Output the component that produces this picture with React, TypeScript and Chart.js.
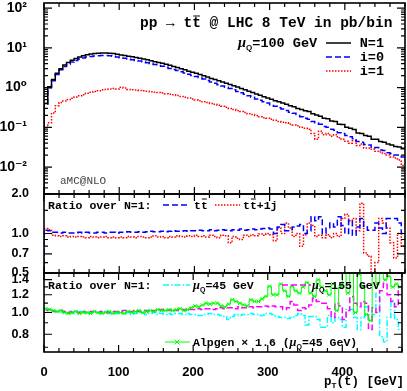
import React, { useEffect, useRef } from 'react';
import { Chart, registerables } from 'chart.js';
Chart.register(...registerables);

// ---------- data ----------
const BIN_WIDTH = 5; // GeV
const X_MIN = 0;
const X_MAX = 480;
const xTickValues = [0, 100, 200, 300, 400];

// main panel (pb/bin), 5 GeV bins from 0 to 480
const nEq1 = [
  0.4, 1.05, 1.6, 2.3, 3.0, 3.7, 4.3, 4.9, 5.4, 5.9, 6.3, 6.7, 7.0, 7.2, 7.35, 7.45, 7.45, 7.35, 7.2, 6.9,
  6.6, 6.4, 6.2, 6.0, 5.75, 5.5, 5.25, 5.0, 4.75, 4.5, 4.3, 4.1, 3.9, 3.65, 3.4, 3.2, 3.0, 2.8, 2.6, 2.45,
  2.3, 2.15, 2.0, 1.85, 1.7, 1.6, 1.48, 1.38, 1.28, 1.2, 1.12, 1.03, 0.95, 0.88, 0.81, 0.75, 0.69, 0.64, 0.59, 0.55,
  0.51, 0.47, 0.44, 0.41, 0.38, 0.35, 0.33, 0.30, 0.28, 0.26, 0.25, 0.22, 0.205, 0.19, 0.17, 0.165, 0.145, 0.14, 0.12, 0.118,
  0.10, 0.095, 0.088, 0.072, 0.07, 0.062, 0.06, 0.05, 0.05, 0.044, 0.042, 0.038, 0.036, 0.033, 0.032, 0.029,
];
const iEq0 = [
  0.38, 1.0, 1.5, 2.15, 2.8, 3.4, 3.9, 4.4, 4.85, 5.25, 5.6, 5.9, 6.1, 6.25, 6.35, 6.4, 6.4, 6.3, 6.15, 5.9,
  5.6, 5.45, 5.25, 5.05, 4.85, 4.65, 4.45, 4.25, 4.0, 3.8, 3.6, 3.45, 3.25, 3.05, 2.85, 2.68, 2.5, 2.33, 2.17, 2.03,
  1.9, 1.76, 1.64, 1.51, 1.38, 1.29, 1.19, 1.1, 1.02, 0.95, 0.88, 0.8, 0.74, 0.68, 0.62, 0.57, 0.52, 0.48, 0.44, 0.41,
  0.37, 0.34, 0.31, 0.29, 0.265, 0.24, 0.225, 0.2, 0.185, 0.17, 0.16, 0.14, 0.13, 0.12, 0.105, 0.1, 0.09, 0.085, 0.073, 0.07,
  0.062, 0.058, 0.052, 0.044, 0.042, 0.037, 0.036, 0.03, 0.031, 0.027, 0.026, 0.023, 0.022, 0.02, 0.02, 0.018,
];
const iEq1 = [
  0.1, 0.13, 0.23, 0.35, 0.42, 0.46, 0.5, 0.54, 0.58, 0.62, 0.66, 0.72, 0.76, 0.8, 0.84, 0.88, 0.9, 0.92, 0.95, 0.93,
  1.02, 0.98, 0.9, 0.88, 0.87, 0.85, 0.83, 0.81, 0.79, 0.77, 0.75, 0.73, 0.7, 0.68, 0.66, 0.63, 0.6, 0.57, 0.55, 0.52,
  0.49, 0.47, 0.44, 0.42, 0.4, 0.38, 0.36, 0.34, 0.32, 0.3, 0.28, 0.265, 0.25, 0.235, 0.22, 0.21, 0.2, 0.185, 0.175, 0.17,
  0.16, 0.15, 0.14, 0.135, 0.13, 0.12, 0.115, 0.11, 0.1, 0.095, 0.09, 0.07, 0.05, 0.08, 0.065, 0.07, 0.06, 0.065, 0.055, 0.05,
  0.045, 0.04, 0.046, 0.035, 0.038, 0.03, 0.03, 0.028, 0.025, 0.024, 0.022, 0.02, 0.018, 0.017, 0.015, 0.011,
];

// ratio panel 1
const ratioTT = [
  1.06, 1.05, 1.02, 1.02, 1.01, 1.02, 1.01, 1.01, 1.01, 1.02, 1.01, 1.02, 1.01, 1.01, 1.02, 1.02, 1.01, 1.02, 1.02, 1.01,
  1.02, 1.02, 1.03, 1.02, 1.02, 1.03, 1.02, 1.03, 1.04, 1.03, 1.03, 1.04, 1.03, 1.04, 1.05, 1.04, 1.04, 1.05, 1.04, 1.05,
  1.05, 1.06, 1.05, 1.05, 1.07, 1.05, 1.06, 1.07, 1.06, 1.05, 1.07, 1.06, 1.08, 1.06, 1.07, 1.08, 1.07, 1.08, 1.09, 1.1,
  1.08, 1.0, 1.12, 1.17, 1.05, 1.05, 1.12, 1.14, 1.17, 1.0, 1.05, 1.34, 1.25, 1.34, 1.0, 1.1, 1.2, 1.12, 1.34, 1.15,
  1.0, 1.26, 0.97, 1.12, 1.3, 1.12, 1.06, 1.06, 1.2, 1.1, 1.0, 1.3, 1.3, 1.3, 1.2, 1.0,
];
const ratioTTJ = [
  1.09, 1.07, 0.97, 0.96, 0.95, 0.96, 0.94, 0.95, 0.94, 0.95, 0.94, 0.93, 0.95, 0.94, 0.93, 0.94, 0.95, 0.93, 0.94, 0.93,
  0.94, 0.93, 0.95, 0.94, 0.93, 0.95, 0.94, 0.93, 0.94, 0.96, 0.94, 0.95, 0.93, 0.95, 0.94, 0.96, 0.95, 0.94, 0.96, 0.95,
  0.97, 0.95, 0.96, 0.94, 0.97, 0.95, 0.93, 0.97, 0.96, 0.85, 0.95, 0.92, 0.9, 0.97, 0.95, 0.98, 0.96, 0.99, 0.97, 1.0,
  0.98, 0.88, 1.1, 1.0, 1.2, 1.1, 0.95, 1.0, 0.8, 0.98, 1.2, 1.15, 0.95, 0.97, 0.93, 0.98, 0.93, 1.0, 0.95, 1.3,
  1.4, 1.25, 1.3, 1.05, 1.7, 0.71, 0.67, 0.45, 0.6, 1.3, 1.2, 1.1, 0.85, 0.65, 1.0, 0.8,
];

// ratio panel 2
const ratioMu45 = [
  1.03, 1.03, 1.02, 1.01, 1.0, 1.01, 1.0, 0.99, 1.0, 1.01, 1.0, 0.99, 1.0, 1.0, 0.99, 1.0, 1.01, 0.99, 1.0, 0.99,
  1.0, 0.99, 1.0, 0.98, 0.99, 1.0, 0.99, 0.98, 0.99, 1.0, 0.98, 0.99, 0.98, 0.99, 0.98, 0.99, 0.99, 0.98, 0.99, 0.98,
  0.98, 0.97, 0.97, 0.98, 0.99, 0.98, 0.98, 0.97, 0.96, 0.93, 0.96, 0.98, 0.97, 0.98, 0.98, 0.99, 0.98, 0.98, 0.97, 0.99,
  0.99, 0.98, 0.96, 0.95, 0.95, 0.94, 0.95, 0.97, 0.99, 0.97, 0.88, 0.96, 0.96, 0.93, 0.86, 0.86, 0.97, 0.9, 0.95, 0.93,
  0.86, 1.03, 1.03, 0.95, 0.84, 0.95, 1.06, 0.93, 0.98, 1.22, 0.78, 0.74, 0.95, 1.13, 0.93, 0.84,
];
const ratioMu155 = [
  1.02, 1.03, 1.01, 1.01, 1.02, 1.01, 1.0, 1.01, 1.01, 1.0, 1.01, 1.0, 1.01, 1.01, 1.0, 1.01, 1.01, 1.0, 1.01, 1.01,
  1.01, 1.02, 1.01, 1.01, 1.02, 1.01, 1.02, 1.02, 1.01, 1.02, 1.02, 1.03, 1.02, 1.02, 1.03, 1.02, 1.03, 1.03, 1.02, 1.03,
  1.03, 1.04, 1.03, 1.04, 1.04, 1.03, 1.04, 1.05, 1.04, 1.05, 1.05, 1.04, 1.06, 1.05, 1.05, 1.06, 1.05, 1.06, 1.06, 1.07,
  1.06, 1.07, 1.06, 1.06, 1.03, 1.05, 1.12, 1.08, 1.02, 1.05, 1.04, 1.08, 1.16, 1.12, 1.1, 1.1, 1.04, 0.95, 1.1, 1.07,
  0.93, 1.02, 1.18, 1.1, 1.06, 1.12, 1.1, 0.84, 1.05, 1.0, 1.25, 1.35, 1.2, 1.12, 1.06, 1.3,
];
const ratioAlpgen = [
  1.04, 1.03, 1.02, 1.01, 1.02, 1.0, 0.99, 1.0, 1.01, 0.99, 1.0, 1.0, 0.99, 1.01, 1.0, 0.99, 1.0, 1.01, 0.99, 1.0,
  1.0, 0.99, 1.01, 1.0, 1.01, 1.02, 1.0, 1.01, 1.02, 1.01, 1.03, 1.02, 1.02, 1.03, 1.02, 1.03, 1.04, 1.02, 1.03, 1.05,
  1.07, 1.06, 1.08, 1.1, 1.09, 1.1, 1.1, 1.07, 1.06, 1.09, 1.14, 1.12, 1.1, 1.08, 1.07, 1.14, 1.12, 1.12, 1.15, 1.18,
  1.31, 1.2, 1.2, 1.34, 1.25, 1.18, 1.31, 1.25, 1.22, 1.3, 1.36, 1.22, 1.18, 1.4, 1.3, 1.25, 1.2, 1.34, 1.02, 1.3,
  1.55, 1.22, 1.55, 1.0, 1.48, 1.3, 0.98, 0.92, 1.55, 1.35, 1.55, 1.4, 1.45, 1.3, 1.34, 1.3,
];

// axes
const mainRange = [0.0021, 135];
const mainTicks = [0.01, 0.1, 1, 10, 100];
const mainTickLabels = ['10⁻²', '10⁻¹', '10⁰', '10¹', '10²'];
const ratio1Range = [0.5, 2.0];
const ratio1Ticks = [0.5, 0.7, 1.0, 2.0];
const ratio1TickLabels = ['0.5', '0.7', '1.0', '2.0'];
const ratio1Minor = [0.6, 0.8, 0.9, 1.5];
const ratio2Range = [2 / 3, 1.5];
const ratio2Ticks = [0.8, 1.0, 1.2, 1.4];
const ratio2TickLabels = ['0.8', '1.0', '1.2', '1.4'];
const ratio2Minor = [0.7, 0.9, 1.1, 1.3];

// ---------- styling ----------
const MONO = "'Liberation Mono', 'DejaVu Sans Mono', monospace";
const SANS = "'Liberation Sans', 'DejaVu Sans', sans-serif";
const SERIF = "'Liberation Serif', 'DejaVu Serif', serif";
const C_BLACK = '#000000';
const C_BLUE = '#0000ff';
const C_RED = '#ff0000';
const C_CYAN = '#00ffff';
const C_MAGENTA = '#ff00ff';
const C_GREEN = '#00ff00';
const DASH = [6, 3];
const DOT = [1.5, 1.5];
const DASHDOT = [6, 2, 1.5, 2];

function hist(vals: number[]) {
  const pts: { x: number; y: number }[] = [{ x: X_MIN, y: 1e-6 }];
  vals.forEach((v, i) => pts.push({ x: X_MIN + i * BIN_WIDTH, y: v }));
  pts.push({ x: X_MIN + vals.length * BIN_WIDTH, y: vals[vals.length - 1] });
  return pts;
}
function centers(vals: number[]) {
  return vals.map((v, i) => ({ x: X_MIN + (i + 0.5) * BIN_WIDTH, y: v }));
}
function histSet(vals: number[], color: string, width: number, dash: number[]) {
  return {
    data: hist(vals),
    borderColor: color,
    borderWidth: width,
    borderDash: dash,
    stepped: true,
    pointRadius: 0,
    fill: false,
  } as any;
}

type Run = { t: string; font: string; dy?: number; over?: number };
function drawRuns(ctx: CanvasRenderingContext2D, runs: Run[], x: number, y: number, align: 'left' | 'right' = 'left', color = '#000') {
  let total = 0;
  for (const r of runs) { ctx.font = r.font; total += ctx.measureText(r.t).width; }
  let cx = align === 'right' ? x - total : x;
  ctx.textAlign = 'left';
  ctx.textBaseline = 'alphabetic';
  ctx.fillStyle = color;
  ctx.strokeStyle = color;
  for (const r of runs) {
    ctx.font = r.font;
    const w = ctx.measureText(r.t).width;
    ctx.fillText(r.t, cx, y + (r.dy || 0));
    if (r.over) {
      ctx.lineWidth = 1;
      ctx.setLineDash([]);
      ctx.beginPath();
      ctx.moveTo(cx + 1, y - r.over);
      ctx.lineTo(cx + w - 1, y - r.over);
      ctx.stroke();
    }
    cx += w;
  }
}
function sample(ctx: CanvasRenderingContext2D, x1: number, x2: number, y: number, color: string, dash: number[], width: number) {
  ctx.save();
  ctx.strokeStyle = color;
  ctx.lineWidth = width;
  ctx.setLineDash(dash);
  ctx.beginPath();
  ctx.moveTo(x1, y);
  ctx.lineTo(x2, y);
  ctx.stroke();
  ctx.restore();
}
function crossMark(ctx: CanvasRenderingContext2D, x: number, y: number, r: number, color: string) {
  ctx.save();
  ctx.strokeStyle = color;
  ctx.lineWidth = 1;
  ctx.setLineDash([]);
  ctx.beginPath();
  ctx.moveTo(x - r, y - r); ctx.lineTo(x + r, y + r);
  ctx.moveTo(x - r, y + r); ctx.lineTo(x + r, y - r);
  ctx.stroke();
  ctx.restore();
}

function framePlugin(yMajor: number[], yMinor: number[], drawText: (ctx: CanvasRenderingContext2D) => void) {
  return {
    id: 'frame',
    afterDatasetsDraw(chart: any) {
      const { ctx, chartArea: a } = chart;
      const xs = chart.scales.x;
      const ys = chart.scales.y;
      ctx.save();
      ctx.setLineDash([]);
      ctx.strokeStyle = '#000';
      ctx.lineWidth = 1.2;
      ctx.beginPath();
      for (let v = X_MIN; v <= X_MAX; v += 20) {
        const px = xs.getPixelForValue(v);
        const L = v % 100 === 0 ? 7 : 4;
        ctx.moveTo(px, a.bottom); ctx.lineTo(px, a.bottom - L);
        ctx.moveTo(px, a.top); ctx.lineTo(px, a.top + L);
      }
      const yTick = (v: number, L: number) => {
        const py = ys.getPixelForValue(v);
        if (py < a.top - 0.5 || py > a.bottom + 0.5) return;
        ctx.moveTo(a.left, py); ctx.lineTo(a.left + L, py);
        ctx.moveTo(a.right, py); ctx.lineTo(a.right - L, py);
      };
      yMajor.forEach((v) => yTick(v, 8));
      yMinor.forEach((v) => yTick(v, 4));
      ctx.stroke();
      ctx.lineWidth = 1.6;
      ctx.strokeRect(a.left, a.top, a.right - a.left, a.bottom - a.top);
      drawText(ctx);
      ctx.restore();
    },
  };
}

function xScale(show: boolean) {
  return {
    type: 'linear',
    min: X_MIN,
    max: X_MAX,
    display: show,
    grid: { display: false },
    border: { display: false },
    afterBuildTicks: (s: any) => { s.ticks = xTickValues.map((v) => ({ value: v })); },
    afterFit: (s: any) => { s.height = show ? 39 : 0; s.paddingLeft = 0; s.paddingRight = 0; },
    ticks: {
      color: '#000',
      padding: 5,
      maxRotation: 0,
      autoSkip: false,
      font: { family: SANS, size: 13, weight: 'bold' },
      callback: (v: any) => String(v),
    },
  } as any;
}
function yScale(range: number[], ticks: number[], labels: string[], size: number, pad: number) {
  return {
    type: 'logarithmic',
    min: range[0],
    max: range[1],
    grid: { display: false },
    border: { display: false },
    afterBuildTicks: (s: any) => { s.ticks = ticks.map((v) => ({ value: v })); },
    afterFit: (s: any) => { s.width = 44; s.paddingTop = 0; s.paddingBottom = 0; },
    ticks: {
      color: '#000',
      padding: pad,
      autoSkip: false,
      font: { family: SANS, size, weight: 'bold' },
      callback: (_v: any, i: number) => labels[i],
    },
  } as any;
}

const baseOptions = (padding: any, x: any, y: any) => ({
  responsive: false,
  animation: false,
  layout: { padding },
  plugins: { legend: { display: false }, tooltip: { enabled: false } },
  scales: { x, y },
}) as any;

const mainMinor: number[] = [];
for (let d = -3; d <= 2; d++) for (let k = 2; k <= 9; k++) mainMinor.push(k * Math.pow(10, d));

export default function App() {
  const r1 = useRef<HTMLCanvasElement>(null);
  const r2 = useRef<HTMLCanvasElement>(null);
  const r3 = useRef<HTMLCanvasElement>(null);

  useEffect(() => {
    const muRuns = (rest: string, size: number): Run[] => [
      { t: 'μ', font: `italic bold ${size + 1}px ${SERIF}` },
      { t: 'Q', font: `bold ${Math.round(size * 0.62)}px ${SANS}`, dy: 3 },
      { t: rest, font: `bold ${size}px ${MONO}` },
    ];

    const c1 = new Chart(r1.current as HTMLCanvasElement, {
      type: 'line',
      data: {
        datasets: [
          histSet(nEq1, C_BLACK, 1.5, []),
          histSet(iEq0, C_BLUE, 1.5, DASH),
          histSet(iEq1, C_RED, 1.5, DOT),
        ],
      },
      options: baseOptions({ top: 3, bottom: 6, left: 0, right: 2 }, xScale(false), yScale(mainRange, mainTicks, mainTickLabels, 14, 9)),
      plugins: [framePlugin(mainTicks, mainMinor, (ctx) => {
        const F = `bold 14.5px ${MONO}`;
        drawRuns(ctx, [{ t: 'pp → t', font: F }, { t: 't', font: F, over: 11 }, { t: ' @ LHC 8 TeV in pb/bin', font: F }], 140, 27);
        drawRuns(ctx, muRuns('=100 GeV', 13.5), 238, 47);
        const LF = `bold 13.5px ${MONO}`;
        sample(ctx, 326, 351, 43, C_BLACK, [], 1.5);
        drawRuns(ctx, [{ t: 'N=1', font: LF }], 384, 47, 'right');
        sample(ctx, 326, 351, 57, C_BLUE, DASH, 1.5);
        drawRuns(ctx, [{ t: 'i=0', font: LF }], 384, 61, 'right');
        sample(ctx, 326, 351, 71, C_RED, DOT, 1.5);
        drawRuns(ctx, [{ t: 'i=1', font: LF }], 384, 75, 'right');
        drawRuns(ctx, [{ t: 'aMC@NLO', font: `11px ${MONO}` }], 60, 184, 'left', '#444');
      })] as any,
    } as any);

    const c2 = new Chart(r2.current as HTMLCanvasElement, {
      type: 'line',
      data: {
        datasets: [
          histSet(ratioTT, C_BLUE, 1.5, DASH),
          histSet(ratioTTJ, C_RED, 1.5, DOT),
        ],
      },
      options: baseOptions({ top: 10, bottom: 11, left: 0, right: 2 }, xScale(false), yScale(ratio1Range, ratio1Ticks, ratio1TickLabels, 12.5, 7)),
      plugins: [framePlugin(ratio1Ticks, ratio1Minor, (ctx) => {
        const F = `bold 11.5px ${MONO}`;
        drawRuns(ctx, [{ t: 'Ratio over N=1:', font: F }], 48, 25);
        sample(ctx, 163, 190, 21, C_BLUE, DASH, 1.5);
        drawRuns(ctx, [{ t: 't', font: F }, { t: 't', font: F, over: 10 }], 194, 25);
        sample(ctx, 215, 240, 21, C_RED, DOT, 1.5);
        drawRuns(ctx, [{ t: 't', font: F }, { t: 't', font: F, over: 10 }, { t: '+1j', font: F }], 243, 25);
      })] as any,
    } as any);

    const c3 = new Chart(r3.current as HTMLCanvasElement, {
      type: 'line',
      data: {
        datasets: [
          { data: centers(ratioAlpgen), showLine: false, pointStyle: 'crossRot', pointRadius: 2.5, borderColor: C_GREEN, borderWidth: 1, backgroundColor: C_GREEN } as any,
          histSet(ratioAlpgen, C_GREEN, 1, []),
          histSet(ratioMu155, C_MAGENTA, 1.5, DASH),
          histSet(ratioMu45, C_CYAN, 1.5, DASHDOT),
        ],
      },
      options: baseOptions({ top: 10, bottom: 0, left: 0, right: 2 }, xScale(true), yScale(ratio2Range, ratio2Ticks, ratio2TickLabels, 12.5, 7)),
      plugins: [framePlugin(ratio2Ticks, ratio2Minor, (ctx) => {
        const F = `bold 11.5px ${MONO}`;
        drawRuns(ctx, [{ t: 'Ratio over N=1:', font: F }], 48, 26);
        sample(ctx, 163, 190, 22, C_CYAN, DASHDOT, 1.5);
        drawRuns(ctx, muRuns('=45 GeV', 11.5), 193, 26);
        sample(ctx, 282, 311, 22, C_MAGENTA, DASH, 1.5);
        drawRuns(ctx, muRuns('=155 GeV', 11.5), 312, 26);
        sample(ctx, 165, 190, 79, C_GREEN, [], 1);
        crossMark(ctx, 177, 79, 2.5, C_GREEN);
        drawRuns(ctx, [
          { t: 'Alpgen × 1.6 (', font: F },
          { t: 'μ', font: `italic bold 12.5px ${SERIF}` },
          { t: 'Q', font: `bold 7px ${SANS}`, dy: 3 },
          { t: '=45 GeV)', font: F },
        ], 193, 83);
        const XF = `bold 12.5px ${MONO}`;
        drawRuns(ctx, [
          { t: 'p', font: XF },
          { t: 'T', font: `bold 8px ${SANS}`, dy: 3 },
          { t: '(t) [GeV]', font: XF },
        ], 404, 122, 'right');
      })] as any,
    } as any);

    return () => { c1.destroy(); c2.destroy(); c3.destroy(); };
  }, []);

  return (
    <div style={{ position: 'absolute', left: 0, top: 0, width: 407, height: 391, background: '#fff' }}>
      <canvas ref={r1} width={407} height={200} style={{ position: 'absolute', left: 0, top: 0 }} />
      <canvas ref={r2} width={407} height={100} style={{ position: 'absolute', left: 0, top: 184 }} />
      <canvas ref={r3} width={407} height={128} style={{ position: 'absolute', left: 0, top: 263 }} />
    </div>
  );
}
